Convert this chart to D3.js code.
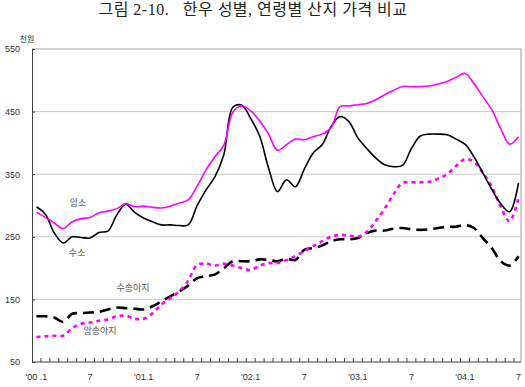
<!DOCTYPE html>
<html>
<head>
<meta charset="utf-8">
<script src="https://cdn.jsdelivr.net/npm/d3@7"></script>
<style>
  body { margin: 0; background: #fff; }
  text { font-family: "Liberation Sans", Arial, "Noto Sans CJK KR", sans-serif; }
</style>
</head>
<body>
<div id="chart"></div>
<script>
// months Jan 2000 .. Jul 2004
const months = [
  "2000.01","2000.02","2000.03","2000.04","2000.05","2000.06","2000.07","2000.08","2000.09","2000.10","2000.11","2000.12",
  "2001.01","2001.02","2001.03","2001.04","2001.05","2001.06","2001.07","2001.08","2001.09","2001.10","2001.11","2001.12",
  "2002.01","2002.02","2002.03","2002.04","2002.05","2002.06","2002.07","2002.08","2002.09","2002.10","2002.11","2002.12",
  "2003.01","2003.02","2003.03","2003.04","2003.05","2003.06","2003.07","2003.08","2003.09","2003.10","2003.11","2003.12",
  "2004.01","2004.02","2004.03","2004.04","2004.05","2004.06","2004.07"
];
const tickMonths = ["2000.01","2000.07","2001.01","2001.07","2002.01","2002.07","2003.01","2003.07","2004.01","2004.07"];
const tickLabels = ["'00 .1","7","'01.1","7","'02.1","7","'03.1","7","'04.1","7"];
const yTicks = [50, 150, 250, 350, 450, 550];

// 암소
const cow = [289,281,272,263,274,279,281,288,291,295,303,298,
             299,297,296,299,304,309,331,357,378,397,449,459,
             451,435,414,388,397,406,405,410,414,424,458,459,
             461,463,469,477,484,490,490,490,491,494,498,505,
             511,495,474,453,423,398,410];
// 수소
const bull = [298,286,256,240,250,249,248,257,259,285,302,289,
              280,274,269,269,268,269,300,325,346,382,457,460,
              439,411,360,322,341,330,358,384,397,426,442,434,
              408,391,376,365,362,364,391,411,414,414,413,406,
              398,378,352,326,303,290,336];
// 수송아지
const bullCalf = [123,123,121,114,127,128,129,130,134,137,136,135,
                  134,139,147,155,163,172,184,187,190,200,211,211,
                  211,214,213,211,215,213,229,232,236,243,246,246,
                  248,256,260,260,263,264,262,261,262,264,266,266,
                  269,264,248,232,211,204,219];
// 암송아지
const cowCalf = [90,91,92,92,104,111,113,116,118,123,124,119,
                 119,128,142,152,163,180,205,207,204,207,204,200,
                 197,204,208,208,213,219,227,235,243,250,253,252,
                 250,258,275,295,318,336,337,337,338,343,350,363,
                 374,370,352,330,298,275,312];

const width = 525, height = 387;
const plot = { left: 32, right: 521, top: 49, bottom: 362 };

const svg = d3.select('#chart').append('svg')
  .attr('width', width).attr('height', height);

svg.append('text')
  .attr('x', 253).attr('y', 15)
  .attr('text-anchor', 'middle')
  .style('font-family', '"Liberation Serif", "Noto Sans CJK KR", serif')
  .style('font-size', '16px')
  .style('letter-spacing', '0.5px')
  .attr('fill', '#222')
  .attr('xml:space', 'preserve')
  .text('그림 2-10.   한우 성별, 연령별 산지 가격 비교');

const x = d3.scaleBand().domain(months).range([plot.left, 523]);
const xc = d => x(d) + x.bandwidth() / 2;
const y = d3.scaleLinear().domain([50, 550]).range([plot.bottom, plot.top]);

// gridlines
svg.append('g').selectAll('line')
  .data(yTicks.filter(v => v > 50 && v < 550))
  .join('line')
  .attr('x1', plot.left).attr('x2', plot.right)
  .attr('y1', d => y(d)).attr('y2', d => y(d))
  .attr('stroke', '#c8c8c8').attr('stroke-width', 1);

// frame
svg.append('line').attr('x1', plot.left).attr('x2', plot.right).attr('y1', plot.top).attr('y2', plot.top)
  .attr('stroke', '#a0a0a0');
svg.append('line').attr('x1', plot.right).attr('x2', plot.right).attr('y1', plot.top).attr('y2', plot.bottom)
  .attr('stroke', '#a0a0a0');

// y axis
const yAxis = svg.append('g')
  .attr('transform', `translate(${plot.left},0)`)
  .call(d3.axisLeft(y).tickValues(yTicks).tickSizeInner(-3).tickSizeOuter(0).tickPadding(12));
yAxis.select('.domain').attr('stroke', '#404040');
yAxis.selectAll('.tick line').attr('stroke', '#404040');
yAxis.selectAll('text').style('font-size', '9px').attr('fill', '#333');

// x axis
svg.append('line').attr('x1', plot.left).attr('x2', plot.right).attr('y1', plot.bottom).attr('y2', plot.bottom)
  .attr('stroke', '#404040');
svg.append('g').selectAll('line')
  .data(months.slice(1))
  .join('line')
  .attr('x1', d => x(d)).attr('x2', d => x(d))
  .attr('y1', plot.bottom).attr('y2', plot.bottom - 4)
  .attr('stroke', '#404040');

const xAxis = svg.append('g')
  .attr('transform', `translate(0,${plot.bottom})`)
  .call(d3.axisBottom(x).tickValues(tickMonths)
    .tickFormat(d => tickLabels[tickMonths.indexOf(d)])
    .tickSize(0).tickPadding(12));
xAxis.select('.domain').remove();
xAxis.selectAll('text').style('font-size', '9px').attr('fill', '#333');

// unit
svg.append('text').attr('x', 27).attr('y', 42)
  .attr('text-anchor', 'middle')
  .style('font-size', '8px').attr('fill', '#333')
  .text('천원');

// series
const series = [
  { name: '수송아지', values: bullCalf, color: '#000', width: 2.6, dash: '11,6' },
  { name: '암송아지', values: cowCalf, color: '#ff00ff', width: 2.6, dash: '4,4' },
  { name: '수소', values: bull, color: '#000', width: 1.6, dash: null },
  { name: '암소', values: cow, color: '#ff00ff', width: 1.6, dash: null }
];

const line = d3.line()
  .x((d, i) => xc(months[i]))
  .y(d => y(d))
  .curve(d3.curveCatmullRom.alpha(0.5));

svg.append('g').selectAll('path')
  .data(series)
  .join('path')
  .attr('d', d => line(d.values))
  .attr('fill', 'none')
  .attr('stroke', d => d.color)
  .attr('stroke-width', d => d.width)
  .attr('stroke-dasharray', d => d.dash);

// series labels
const labels = [
  { text: '암소', x: 78, y: 206 },
  { text: '수소', x: 77, y: 256 },
  { text: '수송아지', x: 133, y: 291 },
  { text: '암송아지', x: 100, y: 334 }
];
svg.append('g').selectAll('text')
  .data(labels)
  .join('text')
  .attr('x', d => d.x).attr('y', d => d.y)
  .attr('text-anchor', 'middle')
  .style('font-size', '9px').attr('fill', '#555')
  .text(d => d.text);
</script>
</body>
</html>
